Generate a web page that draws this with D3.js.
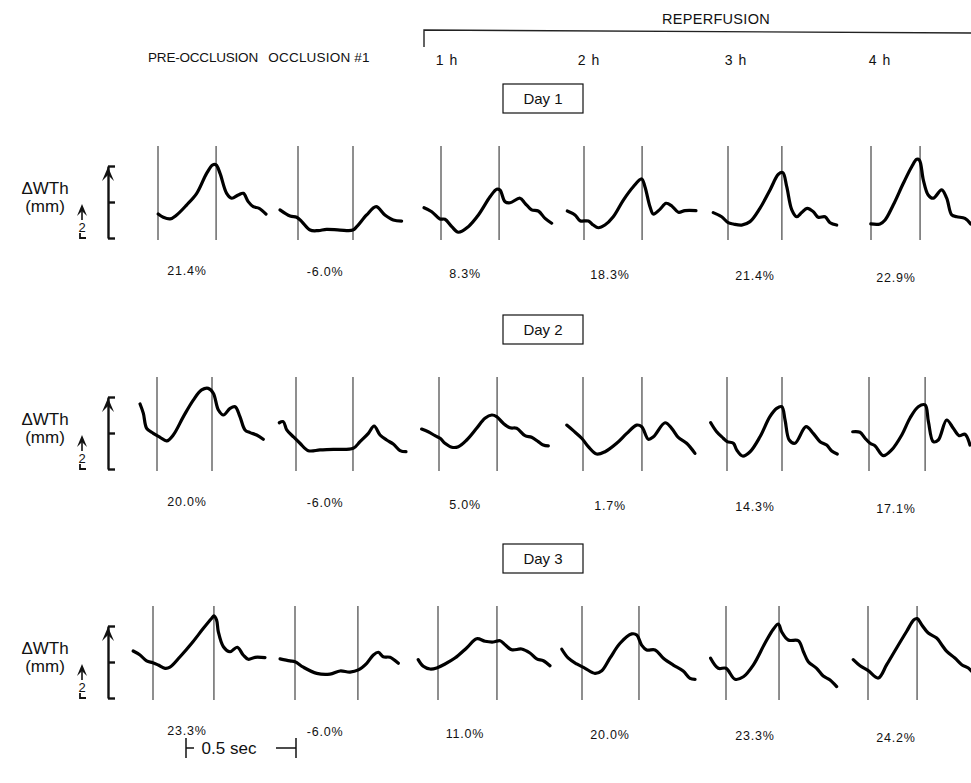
<!DOCTYPE html>
<html>
<head>
<meta charset="utf-8">
<script src="https://cdn.jsdelivr.net/npm/d3@7"></script>
<style>
  body { margin: 0; background: #fff; }
  text { font-family: "Liberation Sans", Arial, sans-serif; fill: #111; }
</style>
</head>
<body>
<svg id="chart" width="971" height="783"></svg>
<script>
'use strict'
// column headings and day labels
var columnNames = ["PRE-OCCLUSION", "OCCLUSION #1", "1 h", "2 h", "3 h", "4 h"];
var dayNames = ["Day 1", "Day 2", "Day 3"];

// % wall thickening under each trace
var pctDay1 = ["21.4%", "-6.0%", "8.3%", "18.3%", "21.4%", "22.9%"];
var pctDay2 = ["20.0%", "-6.0%", "5.0%", "1.7%", "14.3%", "17.1%"];
var pctDay3 = ["23.3%", "-6.0%", "11.0%", "20.0%", "23.3%", "24.2%"];

// time (ms) of the second marker (end systole), first marker is t = 0
var esDay1 = [264, 250, 264, 264, 245, 223];
var esDay2 = [250, 259, 264, 268, 250, 255];
var esDay3 = [277, 286, 268, 259, 241, 223];

// traces: [time ms, wall thickness mm]
var traceDay1 = [
  [[1,1.33],[24,1.15],[55,1.06],[85,1.28],[130,1.83],[176,2.48],[221,3.59],[249,4.06],[264,4.06],[282,3.59],[312,2.48],[335,2.21],[365,2.39],[388,2.48],[410,2.02],[433,1.74],[460,1.65],[491,1.33]],
  [[-82,1.56],[-36,1.22],[-6,1.15],[17,0.91],[55,0.44],[92,0.41],[130,0.48],[191,0.44],[249,0.44],[267,0.63],[312,1.28],[355,1.74],[395,1.28],[433,1.0],[471,0.94]],
  [[-77,1.68],[-42,1.46],[-5,1.06],[18,1.04],[49,0.63],[79,0.32],[124,0.63],[170,1.28],[223,2.29],[253,2.71],[268,2.67],[291,2.02],[314,1.96],[359,2.21],[382,1.93],[412,1.56],[442,1.5],[473,1.09],[503,0.82]],
  [[-76,1.5],[-41,1.28],[-18,0.96],[20,0.94],[42,0.72],[65,0.57],[95,0.72],[133,1.18],[179,2.11],[224,2.85],[262,3.28],[277,2.85],[300,1.74],[315,1.33],[345,1.59],[373,1.93],[399,1.78],[429,1.43],[459,1.52],[509,1.52]],
  [[-67,1.41],[-29,1.18],[1,0.85],[24,0.78],[62,0.72],[100,0.91],[145,1.65],[191,2.67],[229,3.54],[249,3.63],[267,2.85],[290,1.56],[312,1.18],[335,1.41],[360,1.65],[388,1.46],[410,1.15],[441,1.18],[464,0.85],[494,0.72]],
  [[-1,0.78],[41,0.78],[64,1.0],[101,1.83],[147,3.04],[185,3.96],[208,4.37],[220,4.33],[238,3.22],[260,2.39],[283,2.21],[321,2.67],[344,2.21],[367,1.28],[390,1.18],[427,1.09],[453,0.78]]
];
var traceDay2 = [
  [[-77,3.61],[-62,3.09],[-47,2.26],[-17,1.98],[14,1.76],[44,1.56],[74,1.89],[120,2.91],[165,3.83],[203,4.39],[233,4.48],[256,4.21],[279,3.28],[302,3.0],[332,3.37],[355,3.46],[377,2.91],[400,2.17],[423,2.02],[453,1.89],[483,1.65]],
  [[-76,2.57],[-58,2.63],[-42,2.17],[-12,1.79],[18,1.43],[56,1.02],[109,1.06],[170,1.09],[260,1.15],[291,1.52],[329,1.98],[355,2.39],[382,1.89],[412,1.61],[442,1.39],[473,1.02],[500,0.96]],
  [[-79,2.22],[-49,2.07],[-18,1.85],[5,1.71],[27,1.43],[58,1.21],[88,1.24],[126,1.61],[171,2.26],[209,2.82],[240,3.0],[262,2.91],[292,2.54],[323,2.29],[353,2.26],[391,1.85],[421,1.76],[451,1.52],[474,1.33],[497,1.28]],
  [[-74,2.44],[-44,2.13],[-6,1.71],[24,1.24],[62,0.83],[100,0.96],[153,1.43],[199,1.98],[244,2.44],[267,2.35],[297,1.65],[320,1.79],[373,2.57],[403,2.26],[433,1.76],[471,1.43],[509,0.87]],
  [[-74,2.57],[-47,2.07],[-17,1.71],[1,1.52],[29,1.43],[44,1.06],[71,0.72],[105,0.96],[150,1.79],[195,2.91],[226,3.37],[249,3.46],[264,2.72],[283,1.61],[309,1.43],[359,2.35],[392,1.98],[423,1.52],[453,1.33],[476,1.0],[501,0.83]],
  [[-74,2.07],[-41,2.04],[-18,1.71],[5,1.43],[27,1.29],[65,0.74],[103,1.06],[149,1.89],[186,2.82],[224,3.46],[255,3.56],[270,2.63],[292,1.52],[315,1.61],[353,2.72],[383,2.26],[410,1.85],[436,1.93],[459,1.33]]
];
var traceDay3 = [
  [[-90,2.61],[-59,2.39],[-29,2.06],[-1,1.96],[24,1.83],[55,1.65],[77,1.71],[123,2.29],[176,3.04],[229,3.87],[267,4.43],[277,4.56],[289,4.33],[297,3.68],[320,2.85],[350,2.57],[383,2.82],[410,2.39],[433,2.15],[464,2.26],[509,2.24]],
  [[-68,2.17],[-23,2.06],[0,2.02],[38,1.71],[99,1.37],[159,1.33],[205,1.5],[250,1.44],[288,1.56],[326,1.93],[356,2.39],[379,2.54],[401,2.29],[432,2.26],[470,1.93]],
  [[-90,2.13],[-67,1.76],[-36,1.61],[-6,1.67],[32,1.89],[77,2.22],[130,2.78],[176,3.29],[214,3.15],[251,3.11],[282,3.18],[305,2.96],[335,2.68],[380,2.72],[418,2.5],[449,2.17],[479,2.07],[509,1.79]],
  [[-92,2.71],[-62,2.21],[-24,1.89],[14,1.65],[59,1.37],[90,1.52],[127,2.21],[173,3.04],[226,3.56],[249,3.5],[271,2.94],[294,2.67],[332,2.67],[370,2.21],[415,1.83],[460,1.5],[491,1.09],[514,1.04]],
  [[-70,2.21],[-35,1.65],[0,1.65],[41,1.04],[79,1.18],[124,1.83],[177,3.04],[215,3.82],[238,4.11],[253,3.68],[283,3.22],[329,3.18],[352,2.57],[374,2.02],[412,1.65],[442,1.22],[473,1.0],[503,0.63]],
  [[-67,2.13],[-36,1.79],[1,1.52],[47,1.11],[85,1.85],[130,2.78],[176,3.71],[209,4.35],[224,4.41],[244,4.07],[274,3.61],[312,3.33],[335,2.96],[358,2.59],[395,2.22],[426,1.85],[456,1.67],[471,1.48]]
];

var scaleTicksMm = [0, 2, 4];
var timeBarMs = 500;

// ---- layout ----
var svg = d3.select("#chart");
var rowBottom = [238, 469, 698];
var markerX = [
  [158, 298, 441, 584, 728, 871],
  [157, 296, 439, 583, 727, 869],
  [153, 295, 438, 582, 726, 868]
];
var pctX = [187, 325, 465, 610, 755, 896];
var headerX = [203, 319, 447, 589, 736, 880];

var pct = [pctDay1, pctDay2, pctDay3];
var es = [esDay1, esDay2, esDay3];
var traces = [traceDay1, traceDay2, traceDay3];

var pxPerMs = 110 / 500;

// headings
svg.selectAll(".colhead")
  .data(columnNames)
  .enter().append("text")
  .attr("class", "colhead")
  .attr("x", function (d, i) { return headerX[i]; })
  .attr("y", function (d, i) { return i < 2 ? 62 : 65; })
  .attr("text-anchor", "middle")
  .style("font-size", function (d, i) { return i < 2 ? "13.5px" : "14px"; })
  .style("letter-spacing", function (d, i) { return i == 0 ? "-0.2px" : (i == 1 ? "0.2px" : "1px"); })
  .text(function (d) { return d; });

svg.append("text")
  .attr("x", 716).attr("y", 24)
  .attr("text-anchor", "middle")
  .style("font-size", "14.5px")
  .style("letter-spacing", "0.3px")
  .text("REPERFUSION");

svg.append("path")
  .attr("d", "M424,47 L424,30 L971,33")
  .attr("fill", "none")
  .attr("stroke", "#222")
  .attr("stroke-width", 1.4);

// line generator
var line = d3.line()
  .x(function (d) { return d[0]; })
  .y(function (d) { return d[1]; })
  .curve(d3.curveCatmullRom.alpha(0.5));

dayNames.forEach(function (day, r) {
  var bottom = rowBottom[r];
  var y = d3.scaleLinear().domain([0, 4]).range([bottom, bottom - 72]);
  var g = svg.append("g").attr("class", "row");

  // day box
  var boxY = bottom - 154;
  g.append("rect")
    .attr("x", 503).attr("y", boxY)
    .attr("width", 80).attr("height", 29)
    .attr("fill", "none").attr("stroke", "#111").attr("stroke-width", 1.2);
  g.append("text")
    .attr("x", 543).attr("y", boxY + 20)
    .attr("text-anchor", "middle")
    .style("font-size", "15px")
    .text(day);

  // y label
  g.append("text")
    .attr("x", 45).attr("y", bottom - 44)
    .attr("text-anchor", "middle")
    .style("font-size", "17px")
    .text("\u0394WTh");
  g.append("text")
    .attr("x", 45).attr("y", bottom - 26)
    .attr("text-anchor", "middle")
    .style("font-size", "17px")
    .text("(mm)");

  // scale bracket with the axis
  var axis = d3.axisRight(y).tickValues(scaleTicksMm).tickSize(7).tickSizeOuter(0).tickFormat("");
  var ag = g.append("g").attr("transform", "translate(108,0)").call(axis);
  ag.selectAll("path, line").attr("stroke", "#111").attr("stroke-width", 2.4);
  g.append("path")
    .attr("d", "M102," + (y(4) + 15) + " L108," + (y(4) + 1) + " L114," + (y(4) + 15) + " L108," + (y(4) + 9) + "Z")
    .attr("fill", "#111");

  // small "2" marker
  var my = y(2);
  g.append("path")
    .attr("d", "M77," + (my + 14) + " L82," + (my + 2) + " L87," + (my + 14) + " L82," + (my + 9) + "Z")
    .attr("fill", "#111");
  g.append("line")
    .attr("x1", 82).attr("x2", 82).attr("y1", my + 8).attr("y2", my + 18)
    .attr("stroke", "#111").attr("stroke-width", 1.6);
  g.append("text")
    .attr("x", 82).attr("y", my + 30)
    .attr("text-anchor", "middle")
    .style("font-size", "13px")
    .text("2");
  g.append("path")
    .attr("d", "M80," + (y(0) - 5) + " L80," + (y(0)) + " L86," + y(0))
    .attr("fill", "none").attr("stroke", "#111").attr("stroke-width", 1.8);

  // panels
  traces[r].forEach(function (tr, c) {
    var x = d3.scaleLinear().domain([0, 1]).range([markerX[r][c], markerX[r][c] + pxPerMs]);
    var p = g.append("g").attr("class", "panel");
    [0, es[r][c]].forEach(function (t) {
      p.append("line")
        .attr("x1", x(t)).attr("x2", x(t))
        .attr("y1", y(4) - 20).attr("y2", bottom + 2)
        .attr("stroke", "#333").attr("stroke-width", 1.1);
    });
    p.append("path")
      .datum(tr.map(function (d) { return [x(d[0]), y(d[1])]; }))
      .attr("d", line)
      .attr("fill", "none")
      .attr("stroke", "#000")
      .attr("stroke-width", 3.2)
      .attr("stroke-linecap", "round")
      .attr("stroke-linejoin", "round");
    p.append("text")
      .attr("x", pctX[c]).attr("y", bottom + 37 + c * 1.3)
      .attr("text-anchor", "middle")
      .style("font-size", "12.5px")
      .style("letter-spacing", "0.8px")
      .text(pct[r][c]);
  });
});

// 0.5 sec bar
var tx = d3.scaleLinear().domain([0, timeBarMs]).range([186, 186 + timeBarMs * pxPerMs]);
var barY = 748;
var bar = svg.append("g");
bar.append("line").attr("x1", tx(0)).attr("x2", tx(0)).attr("y1", barY - 10).attr("y2", barY + 10);
bar.append("line").attr("x1", tx(timeBarMs)).attr("x2", tx(timeBarMs)).attr("y1", barY - 10).attr("y2", barY + 10);
bar.append("line").attr("x1", tx(0)).attr("x2", tx(0) + 8).attr("y1", barY).attr("y2", barY);
bar.append("line").attr("x1", tx(timeBarMs) - 20).attr("x2", tx(timeBarMs)).attr("y1", barY).attr("y2", barY);
bar.selectAll("line").attr("stroke", "#111").attr("stroke-width", 1.5);
bar.append("text")
  .attr("x", 229).attr("y", barY + 6)
  .attr("text-anchor", "middle")
  .style("font-size", "17px")
  .text("0.5 sec");
</script>
</body>
</html>
